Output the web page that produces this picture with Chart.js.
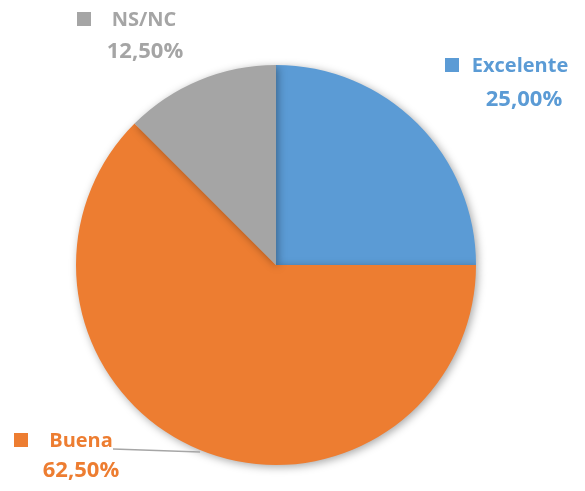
<!DOCTYPE html>
<html>
<head>
<meta charset="utf-8">
<script src="https://cdn.jsdelivr.net/npm/chart.js@4/dist/chart.umd.min.js"></script>
<style>
  html, body { margin: 0; padding: 0; background: #fff; }
  #wrap { width: 585px; height: 491px; position: relative; }
  canvas { display: block; }
</style>
</head>
<body>
<div id="wrap"><canvas id="pie" width="585" height="491"></canvas></div>
<script>
// categories and shares (%)
const categories = ['Excelente', 'Buena', 'NS/NC'];
const shares = [25.0, 62.5, 12.5];
const sliceColors = ['#5B9BD5', '#ED7D31', '#A5A5A5'];

// label placement (square corner, line 1 center, line 2 center) per slice
const labelSpots = [
  { sq: [445, 58], name: [520, 66], pct: [524, 100] },
  { sq: [14, 433], name: [81, 441], pct: [81, 471] },
  { sq: [77, 12], name: [144, 20], pct: [145, 52] },
];

const fmtPct = v => v.toFixed(2).replace('.', ',') + '%';

const shadowPlugin = {
  id: 'pieShadow',
  beforeDatasetDraw(chart) {
    const ctx = chart.ctx;
    ctx.save();
    ctx.shadowColor = 'rgba(0,0,0,0.35)';
    ctx.shadowBlur = 8;
    ctx.shadowOffsetX = 2;
    ctx.shadowOffsetY = 2;
  },
  afterDatasetDraw(chart) {
    chart.ctx.restore();
  }
};

const labelPlugin = {
  id: 'sliceLabels',
  afterDraw(chart) {
    const ctx = chart.ctx;
    const arc = chart.getDatasetMeta(0).data[1];
    ctx.save();
    // leader line from the Buena label to the rim of its slice
    const lineY = 450;
    const dy = lineY + 2 - arc.y;
    const rimX = arc.x - Math.sqrt(Math.max(0, arc.outerRadius * arc.outerRadius - dy * dy)) - 5;
    ctx.strokeStyle = '#A6A6A6';
    ctx.lineWidth = 1.5;
    ctx.beginPath();
    ctx.moveTo(113, 449);
    ctx.lineTo(rimX, lineY + 2);
    ctx.stroke();

    ctx.textAlign = 'center';
    ctx.textBaseline = 'middle';
    categories.forEach((name, i) => {
      const s = labelSpots[i];
      ctx.fillStyle = sliceColors[i];
      ctx.fillRect(s.sq[0], s.sq[1], 14, 14);
      ctx.font = 'bold 20px "Open Sans", "Noto Sans", sans-serif';
      ctx.fillText(name, s.name[0], s.name[1]);
      ctx.font = 'bold 22px "Open Sans", "Noto Sans", sans-serif';
      ctx.fillText(fmtPct(shares[i]), s.pct[0], s.pct[1]);
    });
    ctx.restore();
  }
};

new Chart(document.getElementById('pie'), {
  type: 'pie',
  data: {
    labels: categories,
    datasets: [{
      data: shares,
      backgroundColor: sliceColors,
      borderWidth: 0,
    }]
  },
  options: {
    responsive: false,
    animation: false,
    layout: { padding: { top: 65, bottom: 26, left: 76, right: 109 } },
    plugins: {
      legend: { display: false },
      tooltip: { enabled: false }
    }
  },
  plugins: [shadowPlugin, labelPlugin]
});
</script>
</body>
</html>
